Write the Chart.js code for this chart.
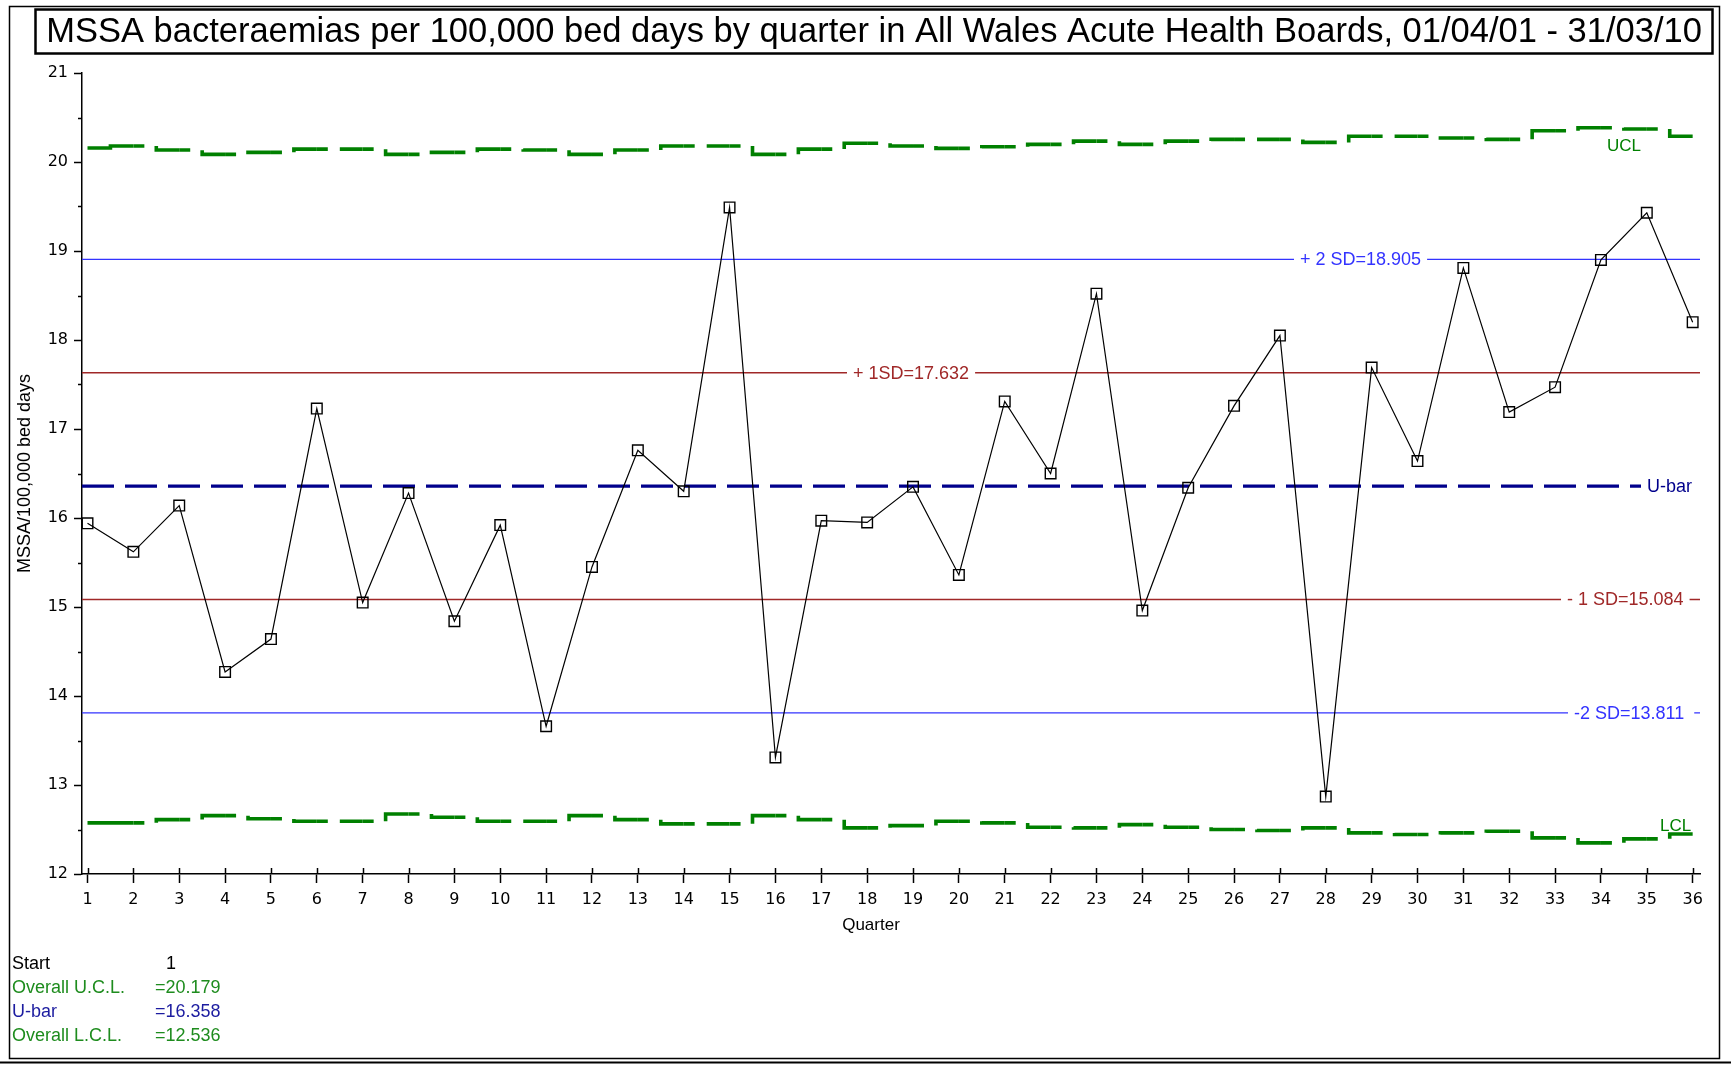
<!DOCTYPE html>
<html><head><meta charset="utf-8">
<script src="https://cdn.jsdelivr.net/npm/chart.js@4.4.1/dist/chart.umd.min.js"></script>
<style>html,body{margin:0;padding:0;background:#fff;overflow:hidden}</style>
</head><body>
<canvas id="c" width="1731" height="1065"></canvas>
<script>
// ---- data ----
const quarters = [1,2,3,4,5,6,7,8,9,10,11,12,13,14,15,16,17,18,19,20,21,22,23,24,25,26,27,28,29,30,31,32,33,34,35,36];
const rates = [15.94,15.62,16.14,14.27,14.64,17.23,15.05,16.28,14.84,15.92,13.66,15.45,16.76,16.30,19.49,13.31,15.97,15.95,16.35,15.36,17.31,16.50,18.52,14.96,16.34,17.26,18.05,12.87,17.69,16.64,18.81,17.19,17.47,18.90,19.43,18.20];
const ucl = [20.157,20.18,20.134,20.086,20.108,20.145,20.145,20.086,20.108,20.145,20.134,20.086,20.134,20.18,20.18,20.086,20.145,20.21,20.18,20.153,20.172,20.198,20.235,20.198,20.235,20.254,20.254,20.22,20.29,20.29,20.27,20.254,20.351,20.385,20.37,20.29];
const lcl = [12.574,12.574,12.611,12.656,12.62,12.592,12.592,12.675,12.637,12.592,12.592,12.656,12.611,12.563,12.563,12.656,12.611,12.518,12.544,12.592,12.574,12.525,12.518,12.555,12.525,12.5,12.488,12.518,12.462,12.443,12.462,12.48,12.406,12.35,12.395,12.45];
const uBar = 16.358;
const overallUCL = 20.179;
const overallLCL = 12.536;
const sdValues = [18.905, 17.632, 15.084, 13.811];
const sdLabels = ['+ 2 SD=18.905', '+ 1SD=17.632', '- 1 SD=15.084', '-2 SD=13.811'];
const yTicks = [12,13,14,15,16,17,18,19,20,21];
const TITLE = 'MSSA bacteraemias per 100,000 bed days by quarter in All Wales Acute Health Boards, 01/04/01 - 31/03/10';
const Y_TITLE = 'MSSA/100,000 bed days';
const X_TITLE = 'Quarter';

// ---- styles ----
const SANS = '"Liberation Sans", Arial, sans-serif';
const TICKF = '"DejaVu Sans", sans-serif';
const GREEN = '#008000', NAVY = '#00008c', BLUE = '#3333ff', RED = '#a02828';
const sdColors = [BLUE, RED, RED, BLUE];
const sdLabelX = [1300, 853, 1567, 1574];
const sdPadR = [6, 6, 6, 10];

const decor = {
  id: 'decor',
  beforeDatasetsDraw(chart) {
    const {ctx, chartArea: a, scales: {x, y}} = chart;
    ctx.save();
    ctx.font = '18px ' + SANS;
    ctx.textBaseline = 'middle';
    sdValues.forEach((v, i) => {
      const py = y.getPixelForValue(v);
      ctx.strokeStyle = sdColors[i]; ctx.lineWidth = 1.3;
      ctx.beginPath(); ctx.moveTo(a.left, py); ctx.lineTo(a.right, py); ctx.stroke();
      const w = ctx.measureText(sdLabels[i]).width;
      ctx.fillStyle = '#fff';
      ctx.fillRect(sdLabelX[i] - 6, py - 9, w + 6 + sdPadR[i], 18);
      ctx.fillStyle = sdColors[i];
      ctx.fillText(sdLabels[i], sdLabelX[i], py + 1);
    });
    // U-bar dashed
    const pu = y.getPixelForValue(uBar);
    ctx.strokeStyle = NAVY; ctx.lineWidth = 3.2;
    ctx.setLineDash([32, 11]);
    ctx.beginPath(); ctx.moveTo(a.left, pu); ctx.lineTo(1641, pu); ctx.stroke();
    ctx.setLineDash([]);
    ctx.fillStyle = NAVY;
    ctx.fillText('U-bar', 1647, pu + 1);
    ctx.restore();
  },
  afterDraw(chart) {
    const {ctx, chartArea: a, scales: {x, y}} = chart;
    ctx.save();
    ctx.strokeStyle = '#000'; ctx.lineWidth = 1.5;
    quarters.forEach(q => {
      const px = Math.round(x.getPixelForValue(q)) + 0.5;
      ctx.beginPath(); ctx.moveTo(px, a.bottom - 6); ctx.lineTo(px, a.bottom); ctx.stroke();
    });
    yTicks.slice(0, -1).forEach(t => {
      const py = Math.round(y.getPixelForValue(t + 0.5)) + 0.5;
      ctx.beginPath(); ctx.moveTo(a.left - 4, py); ctx.lineTo(a.left, py); ctx.stroke();
    });
    ctx.font = '17px ' + SANS;
    ctx.textBaseline = 'middle';
    ctx.fillStyle = GREEN;
    ctx.fillText('UCL', 1607, 146);
    ctx.fillText('LCL', 1660, 826);
    // title box
    ctx.lineWidth = 2.5; ctx.strokeStyle = '#000';
    ctx.strokeRect(35.5, 9.5, 1677, 44);
    ctx.fillStyle = '#000';
    ctx.font = '34.5px ' + SANS;
    ctx.textAlign = 'center';
    ctx.fillText(TITLE, 874, 32);
    // outer frame
    ctx.lineWidth = 1.5;
    ctx.strokeRect(9.5, 6.5, 1710, 1052);
    ctx.lineWidth = 2;
    ctx.beginPath(); ctx.moveTo(0, 1062.5); ctx.lineTo(1731, 1062.5); ctx.stroke();
    // axis titles
    ctx.font = '17px ' + SANS;
    ctx.fillText(X_TITLE, 871, 925);
    ctx.save();
    ctx.font = '18px ' + SANS;
    ctx.translate(25, (a.top + a.bottom) / 2);
    ctx.rotate(-Math.PI / 2);
    ctx.fillText(Y_TITLE, 0, 0);
    ctx.restore();
    // bottom summary
    ctx.textAlign = 'left';
    ctx.font = '18px ' + SANS;
    const rows = [
      ['Start', '1', '#000', 166],
      ['Overall U.C.L.', '=' + overallUCL.toFixed(3), '#1e8c1e', 155],
      ['U-bar', '=' + uBar.toFixed(3), '#1c1ca0', 155],
      ['Overall L.C.L.', '=' + overallLCL.toFixed(3), '#1e8c1e', 155]
    ];
    rows.forEach((r, i) => {
      const py = 964 + i * 24;
      ctx.fillStyle = r[2];
      ctx.fillText(r[0], 12, py);
      ctx.fillText(r[1], r[3], py);
    });
    ctx.restore();
  }
};

const pts = arr => quarters.map((q, i) => ({x: q, y: arr[i]}));
const limitSegment = {
  borderDash: c => c.p0DataIndex === 0 ? [] : [34, 12],
  borderDashOffset: c => 23 + c.p0DataIndex * 0.001
};

new Chart(document.getElementById('c'), {
  type: 'line',
  data: {
    datasets: [
      {data: pts(rates), borderColor: '#000', borderWidth: 1.2, tension: 0,
       pointStyle: 'rect', pointRadius: 7.5, pointBorderWidth: 1.4,
       pointBorderColor: '#000', pointBackgroundColor: 'rgba(0,0,0,0)'},
      {data: pts(ucl), borderColor: GREEN, borderWidth: 3.6, stepped: 'middle',
       borderDash: [34, 12], pointRadius: 0, segment: limitSegment},
      {data: pts(lcl), borderColor: GREEN, borderWidth: 3.6, stepped: 'middle',
       borderDash: [34, 12], pointRadius: 0, segment: limitSegment}
    ]
  },
  options: {
    responsive: false, animation: false, events: [], devicePixelRatio: 1,
    layout: {padding: {left: 0, top: 73, right: 31, bottom: 121}},
    plugins: {legend: {display: false}, tooltip: {enabled: false}, title: {display: false}},
    scales: {
      x: {
        type: 'linear', min: 0.88, max: 36.16,
        afterBuildTicks: s => { s.ticks = quarters.map(v => ({value: v})); },
        afterFit: s => { s.height = 70; },
        ticks: {color: '#000', font: {family: TICKF, size: 16}, padding: 7, maxRotation: 0, autoSkip: false},
        grid: {drawOnChartArea: false, drawTicks: true, tickLength: 9, color: '#000', tickWidth: 1.5},
        border: {display: true, color: '#000', width: 1.5}
      },
      y: {
        type: 'linear', min: 12, max: 21,
        afterBuildTicks: s => { s.ticks = yTicks.map(v => ({value: v})); },
        afterFit: s => { s.width = 82; },
        ticks: {color: '#000', font: {family: TICKF, size: 16}, padding: 6},
        grid: {drawOnChartArea: false, drawTicks: true, tickLength: 8, color: '#000', tickWidth: 1.5},
        border: {display: true, color: '#000', width: 1.5}
      }
    }
  },
  plugins: [decor]
});
</script>
</body></html>
